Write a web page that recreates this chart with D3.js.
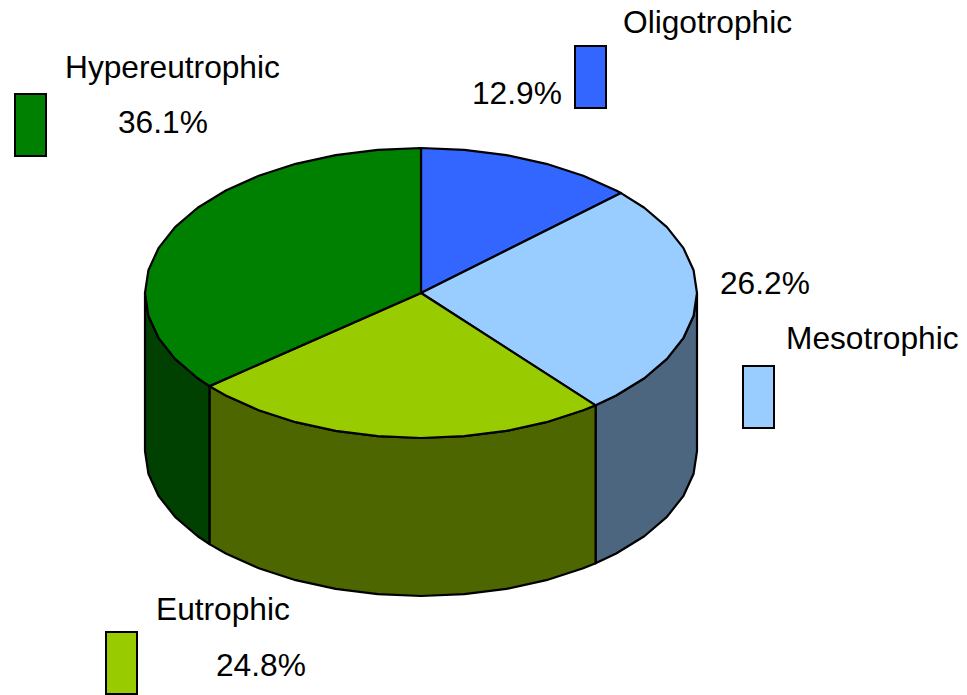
<!DOCTYPE html>
<html>
<head>
<meta charset="utf-8">
<script src="https://cdn.jsdelivr.net/npm/d3@7"></script>
<style>
  body { margin: 0; background: #fff; }
  text { font-family: "Liberation Sans", Arial, sans-serif; font-size: 31.7px; fill: #000; }
</style>
</head>
<body>
<svg id="chart" width="967" height="695"></svg>
<script>
// data
const categories = ["Oligotrophic", "Mesotrophic", "Eutrophic", "Hypereutrophic"];
const shares = [12.9, 26.2, 24.8, 36.1];
const topColours = ["#3366ff", "#99ccff", "#99cc00", "#008000"];
const sideColours = ["#1a3380", "#4d6680", "#4d6600", "#004000"];

// label layout (name, percent, swatch) per category
const labelPos = [
  { name: [623, 33], pct: [472, 104], box: [575, 46] },
  { name: [786, 349], pct: [720, 294], box: [743, 366] },
  { name: [156, 620], pct: [216, 676], box: [106, 632] },
  { name: [65, 78], pct: [118, 133], box: [15, 94] }
];

const svg = d3.select("#chart");

// pie geometry
const cx = 421, cy = 293, rx = 276, ry = 145, depth = 158;
const step = Math.PI / 20;

const pie = d3.pie().sort(null).value(d => d)(shares);

function pt(a, dy) {
  return [cx + rx * Math.sin(a), cy - ry * Math.cos(a) + dy];
}

function anglesBetween(a0, a1) {
  const out = [a0];
  let a = Math.ceil(a0 / step + 1e-9) * step;
  while (a < a1 - 1e-9) { out.push(a); a += step; }
  out.push(a1);
  return out;
}

const line = d3.line();

// side walls (front half only)
const walls = svg.append("g");
pie.forEach((p, i) => {
  const s = Math.max(p.startAngle, Math.PI / 2);
  const e = Math.min(p.endAngle, 3 * Math.PI / 2);
  if (s >= e) return;
  const angs = anglesBetween(s, e);
  const pts = angs.map(a => pt(a, 0)).concat(angs.slice().reverse().map(a => pt(a, depth)));
  walls.append("path")
    .attr("d", line(pts) + "Z")
    .attr("fill", sideColours[i])
    .attr("stroke", "#000")
    .attr("stroke-width", 2.2)
    .attr("stroke-linejoin", "round");
});

// top faces
const tops = svg.append("g");
pie.forEach((p, i) => {
  const pts = [[cx, cy]].concat(anglesBetween(p.startAngle, p.endAngle).map(a => pt(a, 0)));
  tops.append("path")
    .attr("d", line(pts) + "Z")
    .attr("fill", topColours[i])
    .attr("stroke", "#000")
    .attr("stroke-width", 2.2)
    .attr("stroke-linejoin", "round");
});

// labels
const labels = svg.append("g");
categories.forEach((c, i) => {
  const L = labelPos[i];
  labels.append("rect")
    .attr("x", L.box[0]).attr("y", L.box[1])
    .attr("width", 31).attr("height", 62)
    .attr("fill", topColours[i])
    .attr("stroke", "#000")
    .attr("stroke-width", 2);
  labels.append("text").attr("x", L.name[0]).attr("y", L.name[1]).text(c);
  labels.append("text").attr("x", L.pct[0]).attr("y", L.pct[1]).text(d3.format(".1f")(shares[i]) + "%");
});
</script>
</body>
</html>
